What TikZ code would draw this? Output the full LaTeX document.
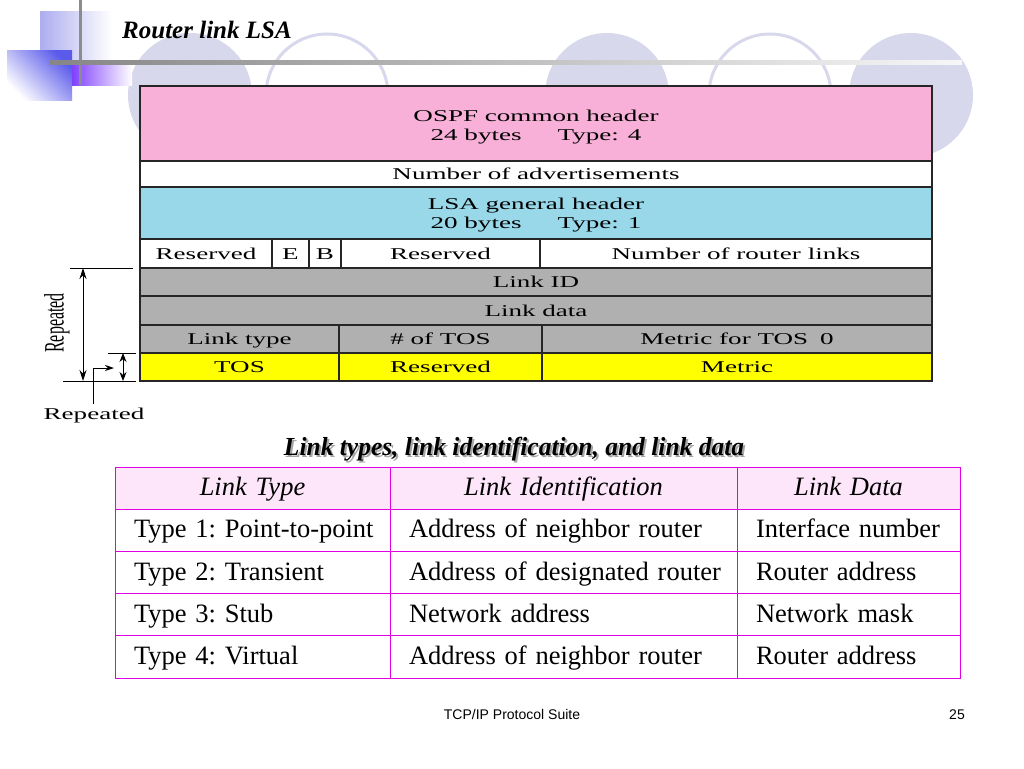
\documentclass[tikz,border=0pt]{standalone}
\usepackage{fontspec}
\usepackage{tikz}
\usetikzlibrary{arrows.meta}
\setmainfont{Liberation Serif}
\setsansfont{Liberation Sans}
\newfontfamily\figfont[FakeStretch=1.64]{Liberation Serif}
\newfontfamily\tallfont[FakeStretch=0.57]{Liberation Serif}
\newfontfamily\capfont[FakeStretch=0.98]{Liberation Serif}
\definecolor{hdrpink}{RGB}{248,176,216}
\definecolor{lsablue}{RGB}{152,216,232}
\definecolor{fldgray}{RGB}{176,176,176}
\definecolor{tosyellow}{RGB}{255,255,0}
\definecolor{tblmag}{RGB}{228,0,228}
\definecolor{tblhead}{RGB}{253,230,250}
\definecolor{deco}{RGB}{216,216,236}
\definecolor{decoblue}{RGB}{90,90,235}
\definecolor{decopurple}{RGB}{128,64,255}
\tikzset{
  fld/.style={draw=black!85,line width=1.3pt,inner sep=0pt,outer sep=0pt,anchor=north west,align=center,
    font=\figfont\fontsize{16.5}{19}\selectfont},
  oneline/.style={text height=11pt,text depth=0pt},
  tcell/.style={draw=tblmag,line width=1pt,anchor=north west,inner ysep=0pt,inner xsep=19pt,outer sep=0pt,
    minimum height=42.2pt,align=left,text height=17pt,text depth=2pt,
    font=\frenchspacing\fontsize{26.5}{26.5}\selectfont},
  thead/.style={tcell,fill=tblhead,align=center,font=\itshape\fontsize{26.5}{26.5}\selectfont},
  span/.style={line width=0.9pt}
}
\begin{document}
\begin{tikzpicture}[x=1pt,y=-1pt]
\useasboundingbox (0,0) rectangle (1024,768);
\fill[white] (0,0) rectangle (1024,768); %
% background of the slide
\foreach \cx in {190,607,911}
	\fill[deco] (\cx,95) circle (62); %
\foreach \cx in {327,770}
	\draw[deco,line width=3pt] (\cx,95) circle (61); %
\shade[left color=deco!80!blue,right color=white] (40,12) rectangle (112,85); %
\shade[top color=white,bottom color=decoblue,shading angle=135] (7,51) rectangle (72,100); %
\shade[left color=decopurple,right color=white] (72,62) rectangle (132,85); %
\fill[gray!90] (79,0) rectangle (82,85); %
\shade[left color=gray!95,right color=gray!6] (49,60) rectangle (962,64); %
\node[anchor=base west,inner sep=0pt,font=\bfseries\itshape\fontsize{25}{25}\selectfont] (title) at (122,39) {Router link LSA};
% router link LSA format
\node[fld,fill=hdrpink,minimum width=792pt,minimum height=75pt] (ospf) at (140,86) {\rule{0pt}{19pt}OSPF common header\\24 bytes\hspace{36pt}Type: 4};
\node[fld,oneline,fill=white,minimum width=792pt,minimum height=26pt] (nadv) at (140,161) {Number of advertisements};
\node[fld,fill=lsablue,minimum width=792pt,minimum height=52pt] (lsa) at (140,187) {\rule{0pt}{15pt}LSA general header\\20 bytes\hspace{36pt}Type: 1};
\node[fld,oneline,fill=white,minimum width=132pt,minimum height=29pt] (resa) at (140,239) {Reserved};
\node[fld,oneline,fill=white,minimum width=37pt,minimum height=29pt] (ebit) at (272,239) {E};
\node[fld,oneline,fill=white,minimum width=32pt,minimum height=29pt] (bbit) at (309,239) {B};
\node[fld,oneline,fill=white,minimum width=199pt,minimum height=29pt] (resb) at (341,239) {Reserved};
\node[fld,oneline,fill=white,minimum width=392pt,minimum height=29pt] (nlinks) at (540,239) {Number of router links};
\node[fld,oneline,fill=fldgray,minimum width=792pt,minimum height=28pt] (linkid) at (140,268) {Link ID};
\node[fld,oneline,fill=fldgray,minimum width=792pt,minimum height=29pt] (linkdata) at (140,296) {Link data};
\node[fld,oneline,fill=fldgray,minimum width=199pt,minimum height=28pt] (ltype) at (140,325) {Link type};
\node[fld,oneline,fill=fldgray,minimum width=203pt,minimum height=28pt] (ntos) at (339,325) {\# of TOS};
\node[fld,oneline,fill=fldgray,minimum width=390pt,minimum height=28pt] (mtos) at (542,325) {Metric for TOS\hspace{12pt}0};
\node[fld,oneline,fill=tosyellow,minimum width=199pt,minimum height=28pt] (tos) at (140,353) {TOS};
\node[fld,oneline,fill=tosyellow,minimum width=203pt,minimum height=28pt] (tosres) at (339,353) {Reserved};
\node[fld,oneline,fill=tosyellow,minimum width=390pt,minimum height=28pt] (metric) at (542,353) {Metric};
% repeated parts
\coordinate (rtopa) at (70,268); \coordinate (rtopb) at (133,268);
\coordinate (rbota) at (63,381); \coordinate (rbotb) at (136,381);
\coordinate (stopa) at (108,353); \coordinate (stopb) at (136,353);
\coordinate (bigu) at (83,268); \coordinate (bigd) at (83,381);
\coordinate (smu) at (123,353); \coordinate (smd) at (123,381);
\coordinate (benda) at (93,404); \coordinate (bendb) at (114,368);
\draw[line width=0.8pt] (rtopa) -- (rtopb); %
\draw[line width=0.8pt] (rbota) -- (rbotb); %
\draw[line width=0.8pt] (stopa) -- (stopb); %
\draw[span,{Stealth[length=11pt,width=7pt]}-{Stealth[length=11pt,width=7pt]}] (bigu) -- (bigd); %
\draw[span,{Stealth[length=9pt,width=7pt]}-{Stealth[length=9pt,width=7pt]}] (smu) -- (smd); %
\draw[span,-{Stealth[length=9pt,width=6pt]}] (benda) |- (bendb); %
\node[rotate=90,inner sep=0pt,font=\tallfont\fontsize{28}{28}\selectfont] (rep) at (57,323) {Repeated};
\node[inner sep=0pt,font=\figfont\fontsize{16.5}{16.5}\selectfont] (reptos) at (94,416) {Repeated};
% link types table
\node[text=gray!70,font=\capfont\bfseries\itshape\fontsize{26}{26}\selectfont] (capshadow) at (516,451) {Link types, link identification, and link data};
\node[font=\capfont\bfseries\itshape\fontsize{26}{26}\selectfont] (caption) at (514,449) {Link types, link identification, and link data};
\node[thead,text width=237pt] (lthead) at (115,467) {Link Type};
\node[thead,text width=309pt] (lihead) at (390,467) {Link Identification};
\node[thead,text width=185pt] (ldhead) at (737,467) {Link Data};
\foreach \r/\a/\b/\c in {1/Type 1: Point-to-point/Address of neighbor router/Interface number,
	2/Type 2: Transient/Address of designated router/Router address,
	3/Type 3: Stub/Network address/Network mask,
	4/Type 4: Virtual/Address of neighbor router/Router address}
{
	\node[tcell,text width=237pt] (lt\r) at (115,{467+42.2*\r}) {\mbox{\a}};
	\node[tcell,text width=309pt] (li\r) at (390,{467+42.2*\r}) {\mbox{\b}};
	\node[tcell,text width=185pt] (ld\r) at (737,{467+42.2*\r}) {\mbox{\c}};
}
% footer
\node[anchor=base,font=\sffamily\fontsize{14}{14}\selectfont] (suite) at (512,719) {TCP/IP Protocol Suite};
\node[anchor=base,font=\sffamily\fontsize{14}{14}\selectfont] (pgno) at (957,719) {25};
\end{tikzpicture}
\end{document}
